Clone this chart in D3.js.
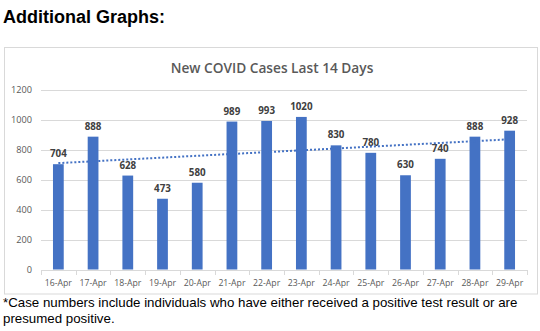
<!DOCTYPE html>
<html><head><meta charset="utf-8">
<script src="https://cdn.jsdelivr.net/npm/d3@7"></script>
<style>body{margin:0;background:#fff;}svg{display:block;}</style>
</head><body>
<script>
const categories = ["16-Apr","17-Apr","18-Apr","19-Apr","20-Apr","21-Apr","22-Apr","23-Apr","24-Apr","25-Apr","26-Apr","27-Apr","28-Apr","29-Apr"];
const cases = [704,888,628,473,580,989,993,1020,830,780,630,740,888,928];
const yTicks = [0,200,400,600,800,1000,1200];
const pageTitle = "Additional Graphs:";
const chartTitle = "New COVID Cases Last 14 Days";
const footnote = ["*Case numbers include individuals who have either received a positive test result or are","presumed positive."];

const W = 540, H = 331;
const svg = d3.select("body").append("svg").attr("width", W).attr("height", H);

svg.append("text").attr("x", 3).attr("y", 23).text(pageTitle)
  .attr("font-family","Liberation Sans, Arial, sans-serif").attr("font-weight","bold").attr("font-size",18).attr("fill","#000");

svg.append("rect").attr("x",4.5).attr("y",47.5).attr("width",533).attr("height",246.5)
  .attr("fill","#fff").attr("stroke","#d9d9d9");

svg.append("text").attr("x", 272).attr("y", 73).attr("text-anchor","middle").text(chartTitle)
  .attr("font-family","Open Sans, sans-serif").attr("font-size",13.7).attr("font-weight",600).attr("fill","#595959");

const x = d3.scaleBand().domain(categories).range([41, 527]).paddingInner(0.69).paddingOuter(0.345);
const xb = d3.scaleBand().domain(categories).range([41, 527]);
const y = d3.scaleLinear().domain([0, 1200]).range([269.5, 90]);

// gridlines
svg.append("g").selectAll("line").data(yTicks.filter(d=>d>0)).join("line")
  .attr("x1",41).attr("x2",527).attr("y1",d=>Math.round(y(d))+0.5).attr("y2",d=>Math.round(y(d))+0.5)
  .attr("stroke","#d9d9d9");

// y axis labels
const yAxis = d3.axisLeft(y).tickValues(yTicks).tickFormat(d3.format("d")).tickSize(0).tickPadding(0);
const yg = svg.append("g").attr("transform","translate(32,0)").call(yAxis);
yg.select(".domain").remove();
yg.selectAll("text").attr("font-family","Open Sans, sans-serif").attr("font-size",9.2).attr("fill","#595959");

// bars
svg.append("g").selectAll("rect").data(cases).join("rect")
  .attr("x",(d,i)=>x(categories[i])).attr("width",x.bandwidth())
  .attr("y",d=>y(d)).attr("height",d=>y(0)-y(d)).attr("fill","#4472C4");

// x axis
const xAxis = d3.axisBottom(xb).tickSize(0).tickPadding(9);
const xg = svg.append("g").attr("transform",`translate(0,${Math.round(y(0))+0.5})`).call(xAxis);
xg.select(".domain").attr("stroke","#d9d9d9").attr("d","M41,0H527");
xg.selectAll("text").attr("font-family","Open Sans, sans-serif").attr("font-size",8.7).attr("fill","#595959");
svg.append("g").selectAll("line").data(d3.range(categories.length+1)).join("line")
  .attr("x1",i=>Math.round(41+i*xb.step())+0.5).attr("x2",i=>Math.round(41+i*xb.step())+0.5)
  .attr("y1",Math.round(y(0))).attr("y2",Math.round(y(0))+5).attr("stroke","#d9d9d9");

// value labels
svg.append("g").selectAll("text").data(cases).join("text")
  .attr("x",(d,i)=>x(categories[i])+x.bandwidth()/2).attr("y",d=>y(d)-7)
  .attr("text-anchor","middle").text(d=>d)
  .attr("font-family","Open Sans, sans-serif").attr("font-weight","bold").attr("font-size",9.8).attr("fill","#404040");

// linear trendline
const n = cases.length, mx = d3.mean(d3.range(n)), my = d3.mean(cases);
const slope = d3.sum(cases,(v,i)=>(i-mx)*(v-my))/d3.sum(d3.range(n),i=>(i-mx)*(i-mx));
const icpt = my - slope*mx;
const cx = i => x(categories[i]) + x.bandwidth()/2;
svg.append("line").attr("x1",cx(0)).attr("x2",cx(n-1)).attr("y1",y(icpt)).attr("y2",y(icpt+slope*(n-1)))
  .attr("stroke","#4472C4").attr("stroke-width",2).attr("stroke-dasharray","2,2");

// footnote
svg.append("g").selectAll("text").data(footnote).join("text")
  .attr("x",3).attr("y",(d,i)=>307+i*16).text(d=>d)
  .attr("font-family","Liberation Sans, Arial, sans-serif").attr("font-size",13.3).attr("fill","#000");
</script>
</body></html>
